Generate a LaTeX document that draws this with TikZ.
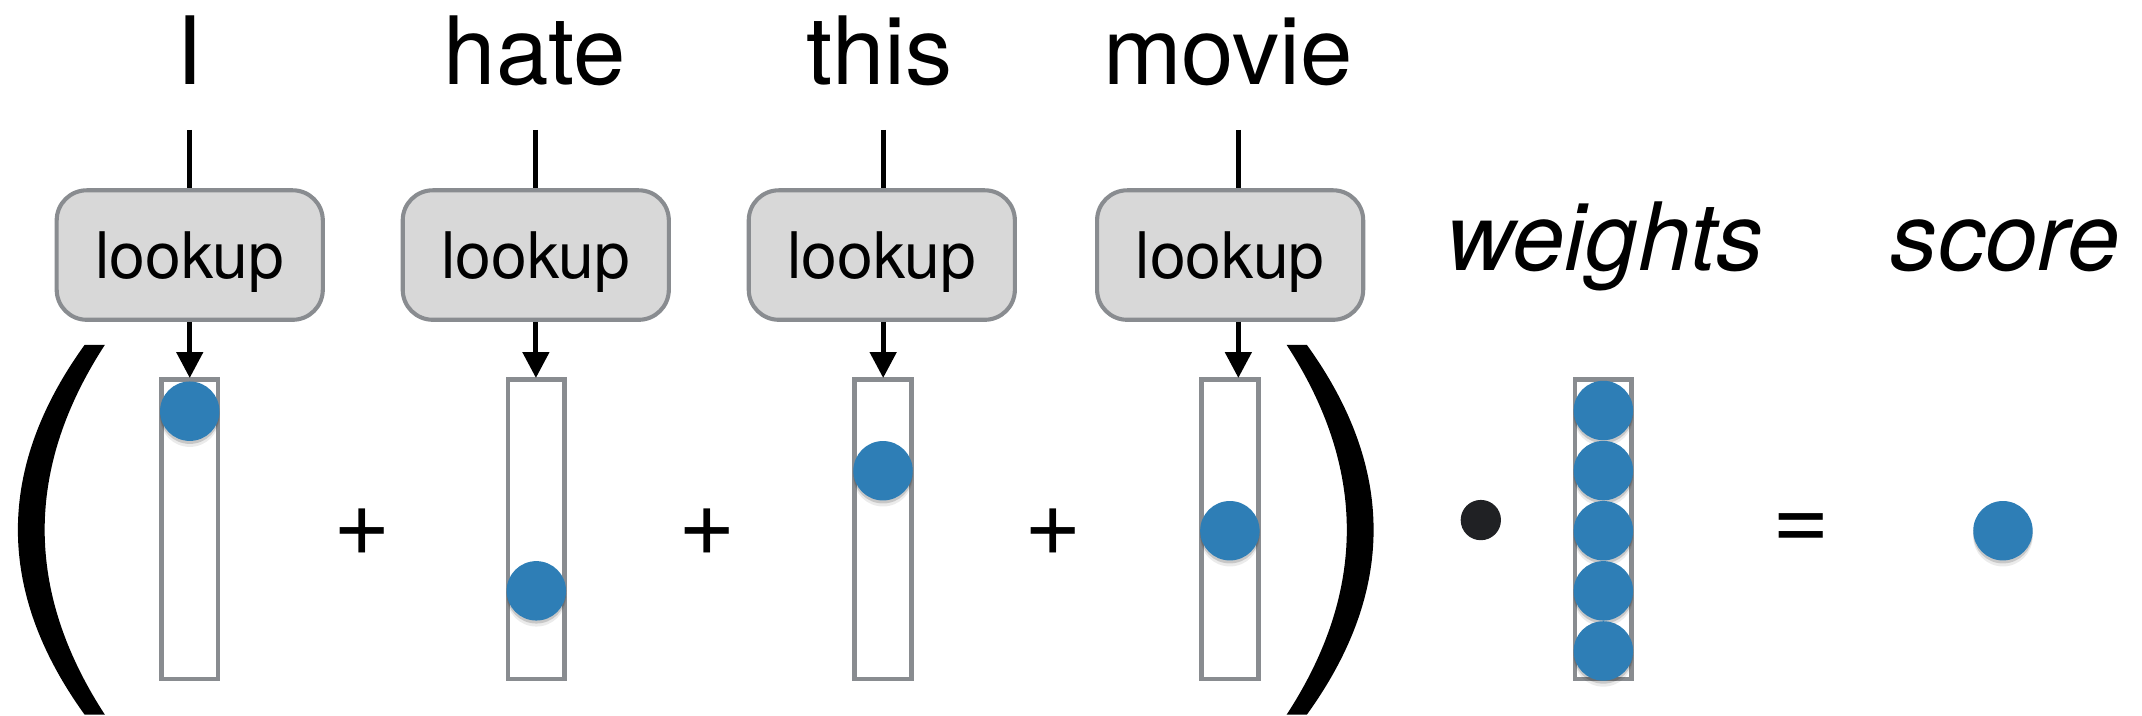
\documentclass[tikz,border=0pt]{standalone}
\usepackage{fontspec}
\setmainfont{TeX Gyre Heros}
\usetikzlibrary{arrows.meta}
\definecolor{dotblue}{RGB}{46,126,182}
\definecolor{boxgray}{RGB}{137,140,144}
\definecolor{boxfill}{RGB}{216,216,216}
\definecolor{opdot}{RGB}{32,33,36}
\begin{document}
\begin{tikzpicture}[x=0.5pt,y=-0.5pt,
  word/.style={anchor=base, inner sep=0pt, font=\fontsize{34.5}{40}\selectfont},
  itword/.style={anchor=base, inner sep=0pt, font=\fontsize{34.5}{40}\selectfont\itshape},
  opsym/.style={inner sep=0pt, font=\fontsize{36}{40}\selectfont},
  lookupbox/.style={draw=boxgray, fill=boxfill, line width=1.5pt, rounded corners=11pt,
    minimum width=97.4pt, minimum height=47.4pt, inner sep=0pt,
    text height=20pt, text depth=3pt, font=\fontsize{23.5}{28}\selectfont},
  vecbox/.style={draw=boxgray, fill=white, line width=1.7pt, minimum width=20.8pt,
    minimum height=109.5pt, inner sep=0pt},
  bluedot/.style={circle, fill=dotblue, minimum size=21.75pt, inner sep=0pt,
    preaction={fill=black, opacity=0.08, transform canvas={yshift=-2.2pt}},
    preaction={fill=black, opacity=0.15, transform canvas={yshift=-1.1pt}}},
  wire/.style={line width=1.8pt, black},
  arrowwire/.style={wire, -{Triangle[length=9.5pt,width=9.5pt]}, shorten >=-0.2pt},
  paren/.style={fill=black}
]
\path[use as bounding box] (0,0) rectangle (1568,524);

% words
\node[word] (w1) at (138.5,62.2) {I};
\node[word] (w2) at (391.5,62.2) {hate};
\node[word] (w3) at (644,62.2) {this};
\node[word] (w4) at (899,62.2) {movie};

% line starts
\coordinate (t1) at (138.9,95);
\coordinate (t2) at (392.3,95);
\coordinate (t3) at (646.5,95);
\coordinate (t4) at (906.5,95);

% lookup boxes
\node[lookupbox] (l1) at (138.9,186.7) {lookup};
\node[lookupbox] (l2) at (392.2,186.7) {lookup};
\node[lookupbox] (l3) at (645.5,186.7) {lookup};
\node[lookupbox] (l4) at (900.5,186.7) {lookup};

% vectors
\node[vecbox] (v1) at (138.9,387.5) {};
\node[vecbox] (v2) at (392.6,387.5) {};
\node[vecbox] (v3) at (646.4,387.5) {};
\node[vecbox] (v4) at (900.3,387.5) {};

% connectors
\foreach \i in {1,2,3,4}{
  \draw[wire] (t\i) -- (t\i |- l\i.north);
  \draw[arrowwire] (t\i |- l\i.south) -- (t\i |- v\i.north);
}

% dots in vectors
\node[bluedot] (d1) at (138.9,301) {};
\node[bluedot] (d2) at (392.6,432.5) {};
\node[bluedot] (d3) at (646.4,344.6) {};
\node[bluedot] (d4) at (900.3,388.5) {};

% plus signs
\node[opsym] (p1) at (265.4,389.4) {+};
\node[opsym] (p2) at (517.5,389.4) {+};
\node[opsym] (p3) at (771,389.4) {+};

% parentheses
\path[paren] (62,252.4) .. controls (-3.2,342.7) and (-3.2,433) .. (62,523.2)
  -- (76.8,523.2) .. controls (18,433) and (18,342.7) .. (76.8,252.4) -- cycle;
\path[paren] (956.6,252.4) .. controls (1021.8,342.7) and (1021.8,433) .. (956.6,523.2)
  -- (941.8,523.2) .. controls (1000.6,433) and (1000.6,342.7) .. (941.8,252.4) -- cycle;

% dot product
\node[circle, fill=opdot, minimum size=14.75pt, inner sep=0pt] (dotop) at (1084,380.7) {};

% weights
\node[itword] (wlab) at (1175,198.2) {weights};
\node[vecbox] (wv) at (1173.7,387.5) {};
\node[bluedot] (wd1) at (1173.7,300.5) {};
\node[bluedot] (wd2) at (1173.7,344.5) {};
\node[bluedot] (wd3) at (1173.7,388.5) {};
\node[bluedot] (wd4) at (1173.7,432.5) {};
\node[bluedot] (wd5) at (1173.7,476.5) {};

% equals and score
\node[opsym] (eq) at (1318.5,389.6) {=};
\node[itword] (slab) at (1468,198.2) {score};
\node[bluedot] (sd) at (1466.2,388.5) {};
\end{tikzpicture}
\end{document}
